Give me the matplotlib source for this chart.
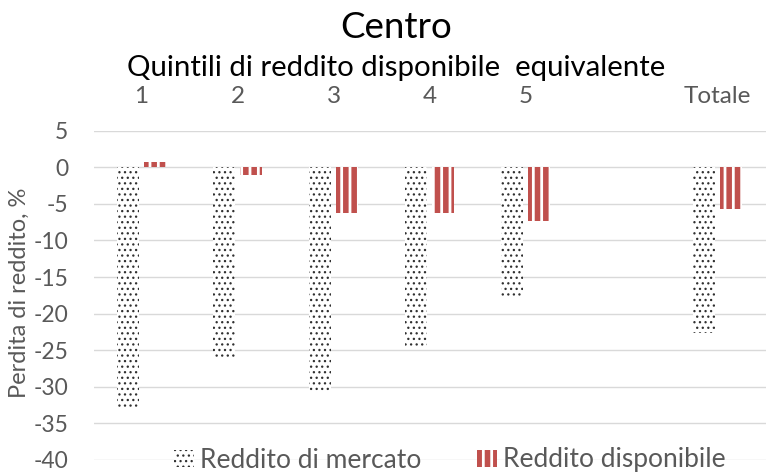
import matplotlib
matplotlib.use("Agg")
import matplotlib.pyplot as plt
import numpy as np

# DATA
categories = ["1", "2", "3", "4", "5", "", "Totale"]
reddito_mercato = [-32.8, -26.2, -30.7, -24.6, -17.9, np.nan, -22.7]
reddito_disponibile = [0.7, -1.0, -6.2, -6.2, -7.4, np.nan, -5.7]
y_ticks = [5, 0, -5, -10, -15, -20, -25, -30, -35, -40]

# STYLE
plt.rcParams['font.family'] = ['Lato', 'DejaVu Sans']
plt.rcParams['axes.unicode_minus'] = False
grey_text = '#595959'
red = '#C0504D'
dots = '#303030'
dot_lw = 0.9
stripe_lw = 4.0


def set_hatch_lw(patches, lw):
    # per-artist hatch linewidth (matplotlib >= 3.10)
    for p in patches:
        if hasattr(p, 'set_hatch_linewidth'):
            p.set_hatch_linewidth(lw)


fig = plt.figure(figsize=(7.69, 4.72), dpi=100)
ax = fig.add_axes([93.5 / 769, 12 / 472, 672 / 769, 329.3 / 472])

x = np.arange(len(categories))
w = 0.225
off = 0.139

# market income bars: small dots
b1 = ax.bar(x - off, reddito_mercato, w, color='white', edgecolor=dots,
            linewidth=0, hatch='...', label='Reddito di mercato', zorder=3)
# disposable income bars: red vertical stripes
b2 = ax.bar(x + off, reddito_disponibile, w, color='white', edgecolor=red,
            linewidth=0, hatch='||', label='Reddito disponibile', zorder=3)
set_hatch_lw(b1.patches, dot_lw)
set_hatch_lw(b2.patches, stripe_lw)

ax.set_xlim(-0.5, 6.5)
ax.set_ylim(-40, 5)
ax.set_yticks(y_ticks)
ax.set_xticks(x)
ax.set_xticklabels(categories)
ax.xaxis.tick_top()
ax.tick_params(axis='x', length=0, pad=17, labelsize=17.5, labelcolor=grey_text)
ax.tick_params(axis='y', length=0, pad=18, labelsize=16.5, labelcolor=grey_text)
ax.yaxis.grid(True, color='#D9D9D9', linewidth=1.0, zorder=0)
ax.set_axisbelow(True)
for s in ax.spines.values():
    s.set_visible(False)

# titles
fig.text(396 / 769, 1 - 38.3 / 472, 'Centro', ha='center', va='baseline',
         fontsize=26.5, color='black')
fig.text(396 / 769, 1 - 76 / 472, 'Quintili di reddito disponibile  equivalente',
         ha='center', va='baseline', fontsize=21.2, color='black')
fig.text(19 / 769, 1 - 293 / 472, 'Perdita di reddito, %', rotation=90,
         ha='center', va='center', fontsize=17, color=grey_text)

leg = fig.legend(handles=[b1, b2], loc='center', bbox_to_anchor=(450 / 769, 1 - 460 / 472),
                 ncol=2, frameon=False, fontsize=19, labelcolor=grey_text,
                 handlelength=0.75, handleheight=0.6, handletextpad=0.25,
                 columnspacing=2.1, borderpad=0)
set_hatch_lw([leg.legend_handles[0]], dot_lw)
set_hatch_lw([leg.legend_handles[1]], stripe_lw)

fig.savefig('out.png', dpi=100)
plt.close(fig)
